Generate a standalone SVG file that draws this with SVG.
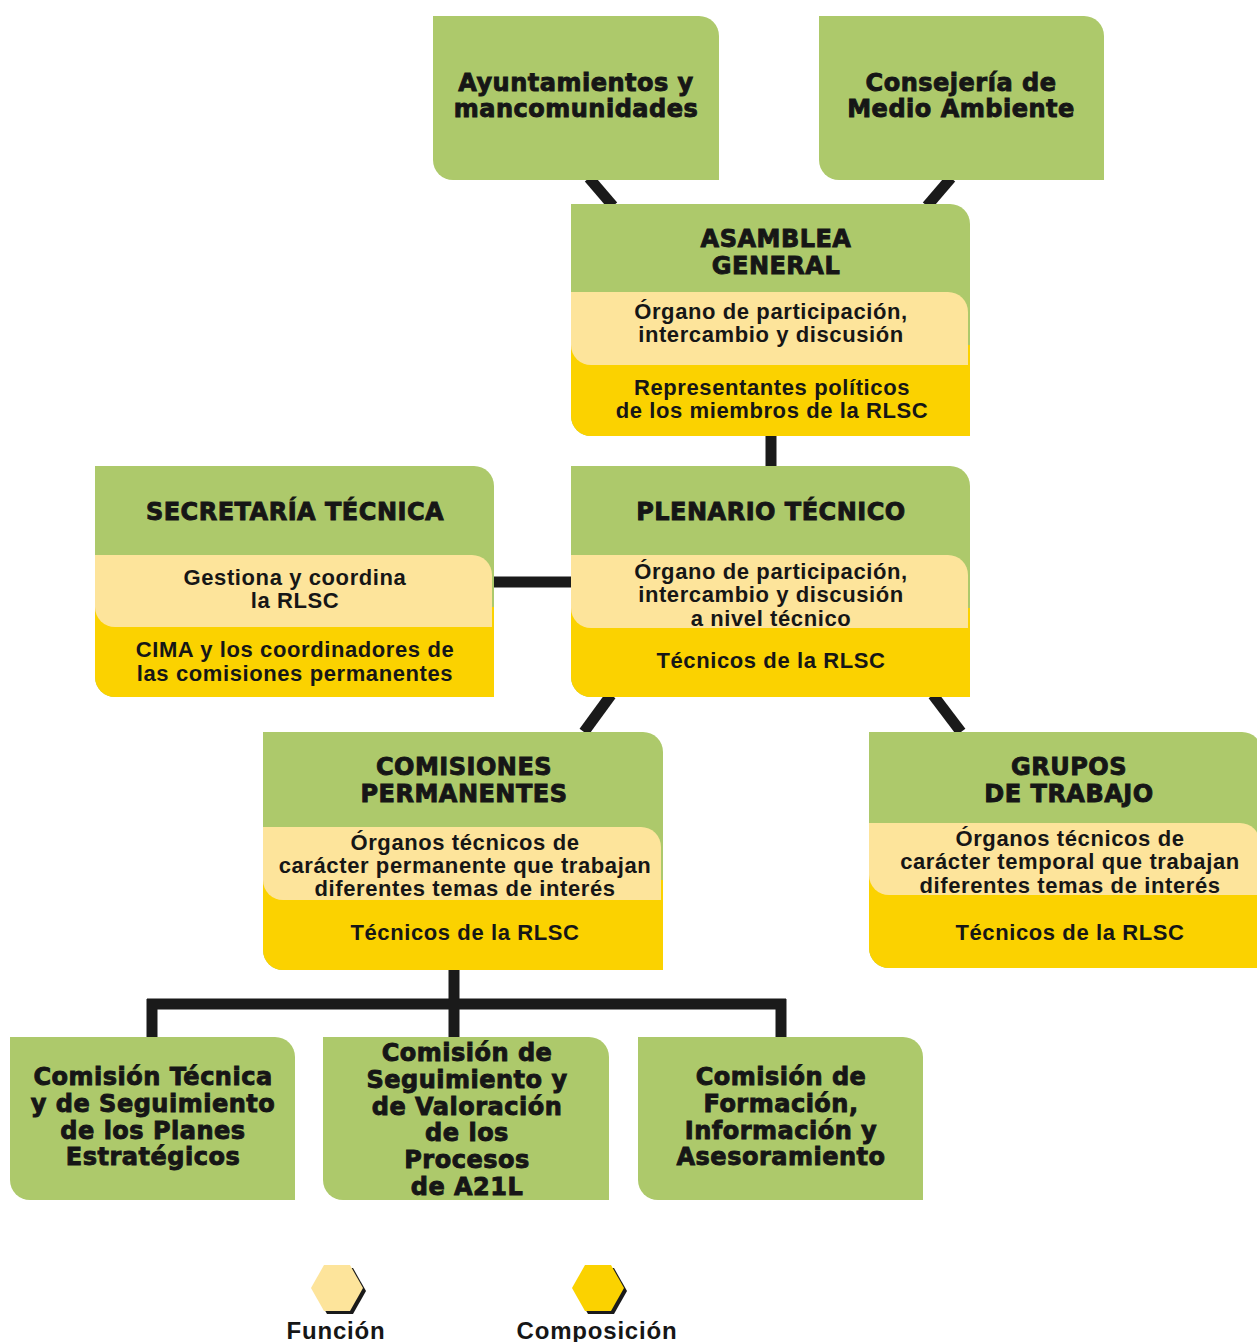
<svg xmlns="http://www.w3.org/2000/svg" width="1257" height="1342" viewBox="0 0 1257 1342">
<style>
.g{fill:#adc96b}
.ly{fill:#fde49b}
.y{fill:#fbd200}
.t{font-family:"DejaVu Sans","Liberation Sans",Arial,sans-serif;font-weight:bold;font-size:24px;fill:#161616;stroke:#161616;stroke-width:0.9;text-anchor:middle;letter-spacing:0.5px}
.d{font-family:"Liberation Sans",Arial,sans-serif;font-weight:bold;font-size:22px;fill:#161616;text-anchor:middle;letter-spacing:0.6px}
.l{font-family:"Liberation Sans",Arial,sans-serif;font-weight:bold;font-size:24px;fill:#161616;text-anchor:middle;letter-spacing:0.8px}
.c{stroke:#1a1a1a;stroke-width:11;fill:none}
</style>
<rect width="1257" height="1342" fill="#ffffff"/>
<g id="connectors">
<line class="c" x1="589" y1="178" x2="613" y2="206"/>
<line class="c" x1="951" y1="178" x2="927" y2="206"/>
<line class="c" x1="771" y1="434" x2="771" y2="468"/>
<line class="c" x1="492" y1="582" x2="573" y2="582"/>
<line class="c" x1="611" y1="695" x2="584" y2="732"/>
<line class="c" x1="933" y1="695" x2="961" y2="732"/>
<line class="c" x1="454" y1="968" x2="454" y2="1039"/>
<line class="c" x1="147" y1="1004" x2="786" y2="1004"/>
<line class="c" x1="152" y1="999" x2="152" y2="1039"/>
<line class="c" x1="781" y1="999" x2="781" y2="1039"/>
</g>
<g id="ayuntamientos">
<path class="g" d="M433 16H699A20 20 0 0 1 719 36V180H453A20 20 0 0 1 433 160Z"/>
<text class="t" x="576" y="91">Ayuntamientos y</text>
<text class="t" x="576" y="117">mancomunidades</text>
</g>
<g id="consejeria">
<path class="g" d="M819 16H1084A20 20 0 0 1 1104 36V180H839A20 20 0 0 1 819 160Z"/>
<text class="t" x="961" y="91">Consejería de</text>
<text class="t" x="961" y="117">Medio Ambiente</text>
</g>
<g id="asamblea">
<path class="g" d="M571 204H950A20 20 0 0 1 970 224V436H591A20 20 0 0 1 571 416Z"/>
<path class="y" d="M571 345H970V436H591A20 20 0 0 1 571 416Z"/>
<path class="ly" d="M571 292H948A20 20 0 0 1 968 312V365H591A20 20 0 0 1 571 345Z"/>
<text class="t" x="776" y="247">ASAMBLEA</text>
<text class="t" x="776" y="274">GENERAL</text>
<text class="d" x="771" y="319">Órgano de participación,</text>
<text class="d" x="771" y="342">intercambio y discusión</text>
<text class="d" x="772" y="395">Representantes políticos</text>
<text class="d" x="772" y="418">de los miembros de la RLSC</text>
</g>
<g id="secretaria">
<path class="g" d="M95 466H474A20 20 0 0 1 494 486V697H115A20 20 0 0 1 95 677Z"/>
<path class="y" d="M95 607H494V697H115A20 20 0 0 1 95 677Z"/>
<path class="ly" d="M95 555H472A20 20 0 0 1 492 575V627H115A20 20 0 0 1 95 607Z"/>
<text class="t" x="295" y="520">SECRETARÍA TÉCNICA</text>
<text class="d" x="295" y="585">Gestiona y coordina</text>
<text class="d" x="295" y="608">la RLSC</text>
<text class="d" x="295" y="657">CIMA y los coordinadores de</text>
<text class="d" x="295" y="681">las comisiones permanentes</text>
</g>
<g id="plenario">
<path class="g" d="M571 466H950A20 20 0 0 1 970 486V697H591A20 20 0 0 1 571 677Z"/>
<path class="y" d="M571 608H970V697H591A20 20 0 0 1 571 677Z"/>
<path class="ly" d="M571 555H948A20 20 0 0 1 968 575V628H591A20 20 0 0 1 571 608Z"/>
<text class="t" x="771" y="520">PLENARIO TÉCNICO</text>
<text class="d" x="771" y="579">Órgano de participación,</text>
<text class="d" x="771" y="602">intercambio y discusión</text>
<text class="d" x="771" y="626">a nivel técnico</text>
<text class="d" x="771" y="668">Técnicos de la RLSC</text>
</g>
<g id="comisiones">
<path class="g" d="M263 732H643A20 20 0 0 1 663 752V970H283A20 20 0 0 1 263 950Z"/>
<path class="y" d="M263 880H663V970H283A20 20 0 0 1 263 950Z"/>
<path class="ly" d="M263 827H641A20 20 0 0 1 661 847V900H283A20 20 0 0 1 263 880Z"/>
<text class="t" x="464" y="775">COMISIONES</text>
<text class="t" x="464" y="802">PERMANENTES</text>
<text class="d" x="465" y="850">Órganos técnicos de</text>
<text class="d" x="465" y="873">carácter permanente que trabajan</text>
<text class="d" x="465" y="896">diferentes temas de interés</text>
<text class="d" x="465" y="940">Técnicos de la RLSC</text>
</g>
<g id="grupos">
<path class="g" d="M869 732H1242A20 20 0 0 1 1262 752V968H889A20 20 0 0 1 869 948Z"/>
<path class="y" d="M869 875H1262V968H889A20 20 0 0 1 869 948Z"/>
<path class="ly" d="M869 823H1240A20 20 0 0 1 1260 843V895H889A20 20 0 0 1 869 875Z"/>
<text class="t" x="1069" y="775">GRUPOS</text>
<text class="t" x="1069" y="802">DE TRABAJO</text>
<text class="d" x="1070" y="846">Órganos técnicos de</text>
<text class="d" x="1070" y="869">carácter temporal que trabajan</text>
<text class="d" x="1070" y="893">diferentes temas de interés</text>
<text class="d" x="1070" y="940">Técnicos de la RLSC</text>
</g>
<g id="comision-tecnica">
<path class="g" d="M10 1037H275A20 20 0 0 1 295 1057V1200H30A20 20 0 0 1 10 1180Z"/>
<text class="t" x="153" y="1085">Comisión Técnica</text>
<text class="t" x="153" y="1112">y de Seguimiento</text>
<text class="t" x="153" y="1139">de los Planes</text>
<text class="t" x="153" y="1165">Estratégicos</text>
</g>
<g id="comision-seguimiento">
<path class="g" d="M323 1037H589A20 20 0 0 1 609 1057V1200H343A20 20 0 0 1 323 1180Z"/>
<text class="t" x="467" y="1061">Comisión de</text>
<text class="t" x="467" y="1088">Seguimiento y</text>
<text class="t" x="467" y="1115">de Valoración</text>
<text class="t" x="467" y="1141">de los</text>
<text class="t" x="467" y="1168">Procesos</text>
<text class="t" x="467" y="1195">de A21L</text>
</g>
<g id="comision-formacion">
<path class="g" d="M638 1037H903A20 20 0 0 1 923 1057V1200H658A20 20 0 0 1 638 1180Z"/>
<text class="t" x="781" y="1085">Comisión de</text>
<text class="t" x="781" y="1112">Formación,</text>
<text class="t" x="781" y="1139">Información y</text>
<text class="t" x="781" y="1165">Asesoramiento</text>
</g>
<g id="legend">
<polygon points="314,1291 327,1268 353,1268 366,1291 353,1314 327,1314" fill="#1a1a1a"/>
<polygon class="ly" points="311,1288 324,1265 350,1265 363,1288 350,1311 324,1311"/>
<text class="l" x="336" y="1339">Función</text>
<polygon points="575,1291 588,1268 614,1268 627,1291 614,1314 588,1314" fill="#1a1a1a"/>
<polygon class="y" points="572,1288 585,1265 611,1265 624,1288 611,1311 585,1311"/>
<text class="l" x="597" y="1339">Composición</text>
</g>
</svg>
